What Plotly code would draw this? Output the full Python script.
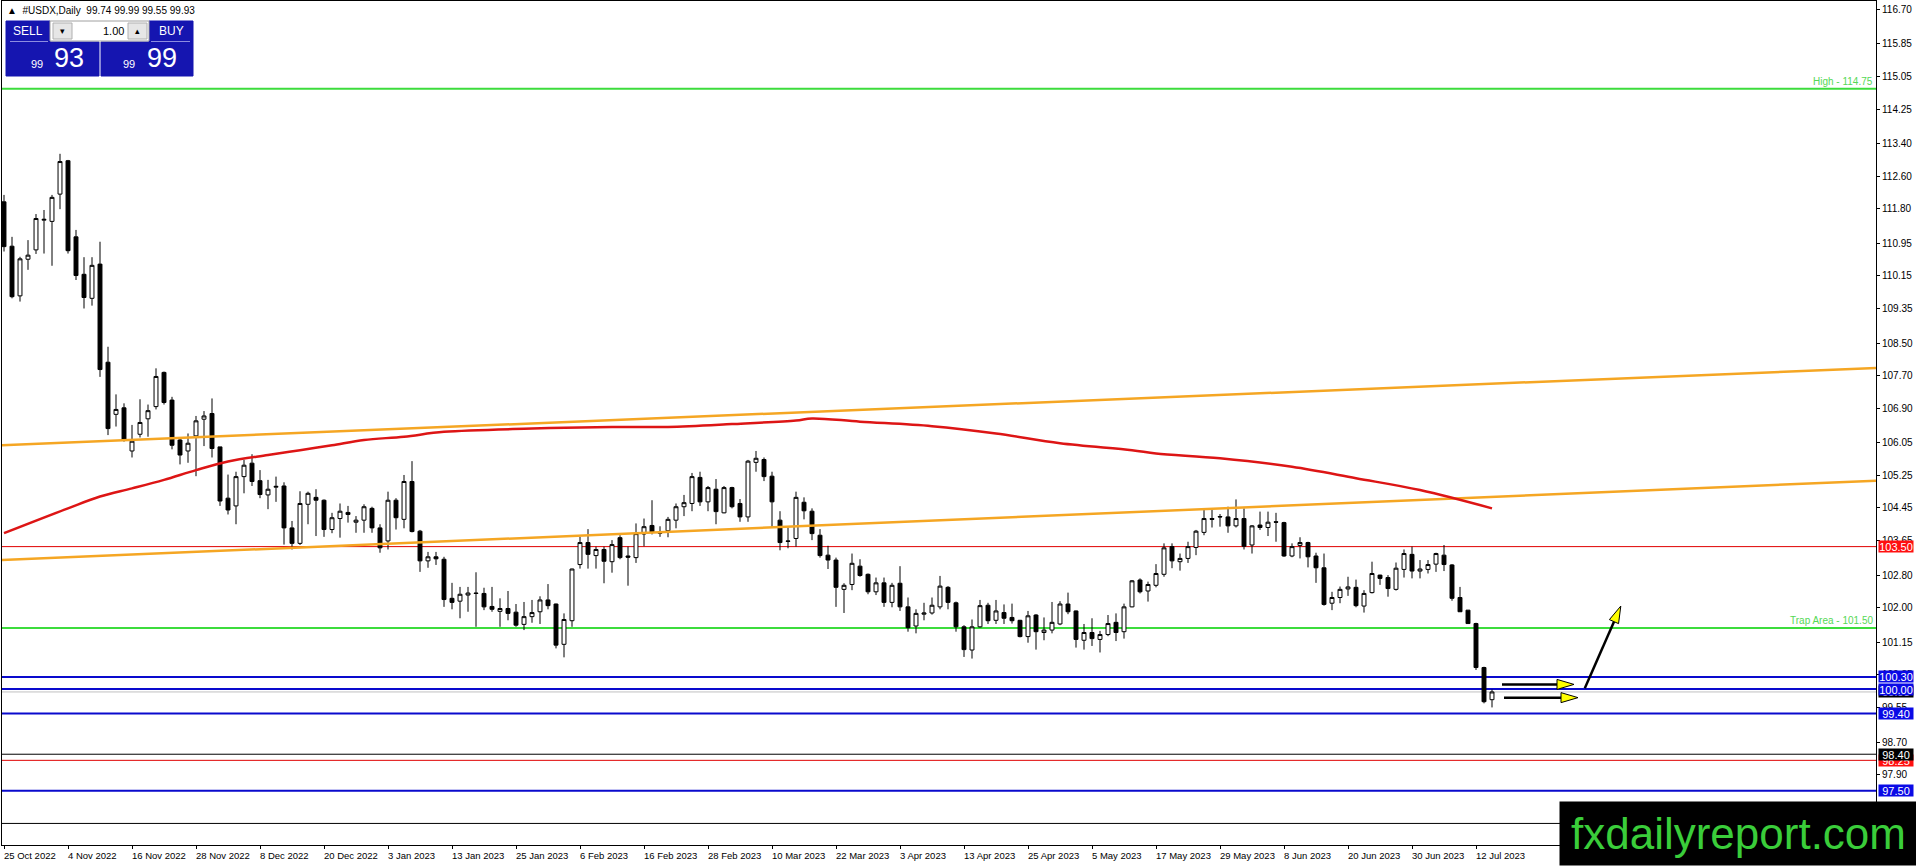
import plotly.graph_objects as go

# daily bars from 25 Oct 2022 to 14 Jul 2023, indexed 0..186
opens = [111.97, 110.88, 109.66, 110.56, 110.79, 111.52, 111.49, 112.16, 112.98, 111.11,
         110.19, 109.60, 110.44, 108.03, 106.75, 106.91, 105.85, 106.26, 106.64, 106.94,
         107.78, 107.10, 106.12, 105.85, 106.22, 106.63, 106.77, 105.95, 104.69, 104.50,
         105.22, 105.55, 105.12, 104.77, 104.96, 104.99, 103.96, 103.58, 104.54, 104.71,
         104.64, 103.92, 104.19, 104.34, 104.10, 104.15, 104.44, 103.96, 103.64, 104.64,
         104.17, 105.10, 103.88, 103.15, 103.25, 103.19, 102.23, 102.16, 102.31, 102.36,
         102.35, 102.03, 101.91, 101.98, 101.89, 101.59, 101.78, 101.90, 102.19, 102.09,
         101.10, 101.68, 103.06, 103.60, 103.28, 103.43, 103.13, 103.72, 103.27, 103.23,
         103.81, 104.02, 103.86, 103.89, 104.15, 104.48, 104.56, 105.20, 104.60, 104.91,
         104.33, 104.95, 104.56, 104.23, 105.57, 105.64, 105.23, 104.15, 103.64, 103.70,
         104.59, 104.37, 103.78, 103.29, 103.17, 102.45, 102.57, 103.02, 102.82, 102.39,
         102.61, 102.13, 102.60, 102.02, 101.55, 101.84, 101.87, 102.02, 102.50, 102.12,
         101.53, 100.96, 101.53, 102.06, 101.69, 101.88, 101.76, 101.69, 101.29, 101.82,
         101.39, 101.45, 101.60, 102.09, 101.92, 101.20, 101.39, 101.22, 101.34, 101.64,
         101.41, 102.02, 102.68, 102.41, 102.55, 102.82, 103.50, 103.13, 103.21, 103.48,
         103.85, 104.19, 104.24, 104.23, 104.01, 104.19, 103.54, 104.03, 103.97, 104.11,
         104.09, 103.27, 103.53, 103.60, 103.27, 102.98, 102.11, 102.25, 102.46, 102.50,
         102.04, 102.37, 102.80, 102.74, 102.45, 102.94, 103.31, 102.90, 102.94, 103.07,
         103.29, 103.05, 102.25, 101.94, 101.61, 100.53, 99.74]
highs = [112.14, 111.11, 110.62, 111.03, 111.67, 111.77, 112.14, 113.15, 113.00, 111.28,
         110.61, 110.61, 110.99, 108.41, 107.24, 107.02, 106.49, 107.12, 106.99, 107.88,
         107.80, 107.18, 106.16, 106.28, 106.71, 106.83, 107.14, 105.95, 105.27, 105.34,
         105.63, 105.77, 105.38, 105.14, 105.22, 105.08, 104.13, 104.86, 104.85, 104.91,
         104.66, 104.33, 104.56, 104.50, 104.25, 104.54, 104.48, 104.05, 104.85, 104.69,
         105.26, 105.60, 103.91, 103.37, 103.37, 103.25, 102.61, 102.51, 102.51, 102.87,
         102.49, 102.51, 102.23, 102.41, 102.09, 102.14, 102.19, 102.28, 102.58, 102.10,
         101.86, 102.96, 103.74, 103.93, 103.50, 103.50, 103.66, 103.78, 103.50, 104.07,
         104.19, 104.64, 104.00, 104.23, 104.56, 104.77, 105.31, 105.34, 104.99, 105.16,
         104.99, 104.97, 104.67, 105.63, 105.85, 105.69, 105.34, 104.37, 103.97, 104.85,
         104.71, 104.44, 103.93, 103.52, 103.23, 102.60, 103.33, 103.19, 102.84, 102.74,
         102.74, 102.61, 103.02, 102.25, 101.96, 102.12, 102.25, 102.78, 102.53, 102.15,
         101.57, 101.71, 102.19, 102.12, 102.19, 102.08, 102.10, 101.70, 101.92, 101.84,
         101.76, 102.14, 102.16, 102.37, 101.93, 101.60, 101.74, 101.43, 101.82, 101.86,
         102.10, 102.68, 102.72, 102.64, 103.07, 103.58, 103.58, 103.33, 103.62, 103.91,
         104.40, 104.40, 104.30, 104.48, 104.66, 104.44, 104.03, 104.36, 104.36, 104.33,
         104.11, 103.58, 103.73, 103.62, 103.35, 103.33, 102.39, 102.52, 102.76, 102.69,
         102.43, 103.13, 102.81, 102.80, 103.11, 103.43, 103.50, 103.17, 103.17, 103.35,
         103.54, 103.07, 102.51, 101.94, 101.63, 100.55, 99.99]
lows = [110.75, 109.60, 109.52, 110.30, 110.69, 110.70, 110.40, 111.79, 110.70, 110.05,
        109.35, 109.42, 107.67, 106.24, 106.45, 106.08, 105.69, 106.18, 106.20, 106.87,
        106.99, 105.89, 105.52, 105.56, 105.23, 105.97, 105.69, 104.50, 104.29, 104.05,
        104.81, 104.99, 104.69, 104.42, 104.60, 103.55, 103.43, 103.54, 104.05, 103.76,
        103.74, 103.83, 103.72, 104.09, 103.84, 103.84, 103.84, 103.35, 103.43, 103.92,
        103.95, 103.85, 102.88, 102.98, 103.05, 102.02, 101.96, 101.74, 101.90, 101.53,
        101.94, 101.90, 101.53, 101.69, 101.53, 101.45, 101.63, 101.60, 101.96, 101.00,
        100.78, 101.53, 102.96, 102.96, 102.96, 102.60, 102.86, 103.19, 102.54, 103.10,
        103.51, 103.80, 103.74, 103.73, 103.95, 104.25, 104.37, 104.50, 104.37, 104.05,
        104.32, 104.44, 104.11, 104.11, 105.34, 105.11, 103.96, 103.41, 103.46, 103.50,
        104.17, 103.66, 103.23, 102.95, 102.02, 101.87, 102.43, 102.76, 102.33, 102.31,
        102.02, 102.01, 101.92, 101.41, 101.37, 101.69, 101.83, 101.96, 101.96, 101.41,
        100.79, 100.75, 101.51, 101.60, 101.60, 101.60, 101.61, 101.27, 101.14, 100.97,
        101.20, 101.37, 101.57, 101.84, 101.02, 100.97, 101.06, 100.90, 101.30, 101.18,
        101.24, 102.01, 102.35, 102.15, 102.50, 102.76, 102.97, 102.91, 103.10, 103.29,
        103.78, 103.97, 103.99, 103.84, 103.97, 103.43, 103.33, 103.91, 103.76, 103.62,
        103.25, 103.24, 103.21, 102.99, 102.61, 102.05, 101.94, 102.11, 102.29, 102.01,
        101.88, 102.35, 102.56, 102.27, 102.42, 102.74, 102.72, 102.72, 102.84, 102.88,
        102.90, 102.17, 101.90, 101.61, 100.47, 99.65, 99.55]
closes = [110.87, 109.64, 110.57, 110.66, 111.56, 111.54, 112.08, 112.96, 110.77, 110.16,
          109.62, 110.41, 107.85, 106.40, 106.87, 106.12, 106.09, 106.55, 106.84, 107.68,
          107.04, 105.99, 105.75, 106.04, 106.59, 106.71, 105.91, 104.62, 104.40, 105.22,
          105.50, 105.10, 104.78, 104.91, 104.98, 103.96, 103.58, 104.56, 104.81, 104.64,
          103.92, 104.21, 104.37, 104.29, 104.15, 104.48, 103.96, 103.47, 104.64, 104.21,
          105.10, 103.87, 103.15, 103.25, 103.20, 102.20, 102.13, 102.33, 102.36, 102.35,
          102.02, 101.96, 101.98, 101.86, 101.57, 101.78, 101.88, 102.19, 102.05, 101.08,
          101.71, 102.95, 103.60, 103.31, 103.43, 103.14, 103.55, 103.23, 103.24, 103.82,
          103.99, 103.86, 103.83, 104.17, 104.48, 104.58, 105.22, 104.60, 104.95, 104.36,
          104.95, 104.48, 104.23, 105.60, 105.67, 105.22, 104.60, 103.60, 103.63, 104.71,
          104.38, 103.82, 103.28, 103.17, 102.50, 102.55, 103.09, 102.79, 102.39, 102.61,
          102.13, 102.55, 102.02, 101.51, 101.86, 101.87, 102.06, 102.53, 102.13, 101.53,
          100.97, 101.53, 102.05, 101.68, 101.92, 101.74, 101.68, 101.29, 101.80, 101.41,
          101.45, 101.64, 102.09, 101.90, 101.22, 101.39, 101.24, 101.34, 101.61, 101.39,
          102.02, 102.66, 102.39, 102.57, 102.84, 103.47, 103.15, 103.21, 103.50, 103.88,
          104.19, 104.17, 104.23, 104.01, 104.19, 103.51, 104.01, 103.97, 104.10, 104.10,
          103.27, 103.50, 103.60, 103.25, 102.98, 102.08, 102.25, 102.45, 102.51, 102.05,
          102.35, 102.84, 102.72, 102.47, 102.97, 103.33, 102.90, 102.95, 103.06, 103.33,
          103.06, 102.23, 101.90, 101.61, 100.53, 99.69, 99.93]
bars = list(range(len(opens)))

# moving average read at a few bars
ma_bars = [0, 8, 12, 16, 20, 24, 28, 33, 37, 41, 45, 50, 55, 66, 76, 83, 91, 99,
           101, 107, 116, 124, 132, 141, 144, 152, 161, 169, 177, 186]
ma_vals = [103.83, 104.44, 104.73, 104.93, 105.14, 105.38, 105.59, 105.75, 105.87, 105.99,
           106.12, 106.20, 106.32, 106.40, 106.44, 106.44, 106.51, 106.60, 106.65, 106.57,
           106.46, 106.28, 106.04, 105.87, 105.79, 105.67, 105.46, 105.18, 104.89, 104.44]

# channel trend lines (bar, price at both ends)
trend_bars = [-0.25, 234.0]
trend_upper = [105.99, 107.89]
trend_lower = [103.17, 105.12]

date_labels = ["25 Oct 2022", "4 Nov 2022", "16 Nov 2022", "28 Nov 2022", "8 Dec 2022",
               "20 Dec 2022", "3 Jan 2023", "13 Jan 2023", "25 Jan 2023", "6 Feb 2023",
               "16 Feb 2023", "28 Feb 2023", "10 Mar 2023", "22 Mar 2023", "3 Apr 2023",
               "13 Apr 2023", "25 Apr 2023", "5 May 2023", "17 May 2023", "29 May 2023",
               "8 Jun 2023", "20 Jun 2023", "30 Jun 2023", "12 Jul 2023"]
date_bars = [8 * i for i in range(len(date_labels))]

price_ticks = [116.70, 115.85, 115.05, 114.25, 113.40, 112.60, 111.80, 110.95, 110.15,
               109.35, 108.50, 107.70, 106.90, 106.05, 105.25, 104.45, 103.65, 102.80,
               102.00, 101.15, 100.35, 99.55, 98.70, 97.90, 97.10]

# horizontal levels: price, line colour, width, axis box colour
levels = [
    (114.75, "#3CDC3C", 2, None),
    (103.50, "#E00000", 1, "#FF1010"),
    (101.50, "#3CDC3C", 2, None),
    (100.30, "#0A0ACD", 2, "#0A0AE6"),
    (99.93, "#C0C0C0", 1, "#000000"),
    (100.00, "#0A0ACD", 2, "#0A0AE6"),
    (99.40, "#0A0ACD", 2, "#0A0AE6"),
    (98.25, "#E00000", 1, "#FF1010"),
    (98.40, "#000000", 1, "#000000"),
    (97.50, "#0A0ACD", 2, "#0A0AE6"),
    (96.70, "#000000", 1, None),
]
level_texts = [(114.75, "High - 114.75"), (101.50, "Trap Area - 101.50")]

# drawn arrows: start bar, start price, end bar, end price
arrows = [(187.25, 100.115, 196.25, 100.115),
          (187.5, 99.79, 196.75, 99.79),
          (197.6, 100.02, 202.1, 102.04)]

W, H = 1916, 866
L, R, T, B = 2, 40, 1, 21
XMIN, XMAX = -0.25, 234.0
YMIN, YMAX = 96.17, 116.904
SX = (W - L - R) / (XMAX - XMIN)
SY = (H - T - B) / (YMAX - YMIN)


def px(x):
    return (x - L) / (W - L - R)


def py(y):
    return 1 - (y - T) / (H - T - B)


fig = go.Figure()

for yu in [trend_upper, trend_lower]:
    fig.add_trace(go.Scatter(x=trend_bars, y=yu, mode="lines",
                             line=dict(color="#F5A623", width=2.5), hoverinfo="skip"))

fig.add_trace(go.Scatter(x=ma_bars, y=ma_vals, mode="lines", line_shape="spline",
                         line=dict(color="#DD1515", width=2.5), hoverinfo="skip"))

fig.add_trace(go.Candlestick(
    x=bars, open=opens, high=highs, low=lows, close=closes,
    increasing=dict(line=dict(color="black", width=1), fillcolor="white"),
    decreasing=dict(line=dict(color="black", width=1), fillcolor="black"),
    whiskerwidth=0,
))

shapes = []
annotations = []

for price, col, wd, box in levels:
    shapes.append(dict(type="line", xref="paper", x0=0, x1=1, yref="y", y0=price, y1=price,
                       line=dict(color=col, width=wd), layer="below"))

for price, txt in level_texts:
    annotations.append(dict(xref="paper", x=1, xanchor="right", xshift=-1,
                            yref="y", y=price, yanchor="bottom", yshift=0,
                            text=txt, showarrow=False,
                            font=dict(family="Liberation Sans", size=10, color="#55D855")))

for price, col, wd, box in levels:
    if box is None:
        continue
    annotations.append(dict(xref="paper", x=1, xanchor="left", xshift=2,
                            yref="y", y=price, yanchor="middle",
                            text="%.2f" % price, showarrow=False, bgcolor=box,
                            width=34, height=11, borderpad=0,
                            font=dict(family="Liberation Sans", size=11, color="white")))

# arrows: black shaft plus yellow head
for x0, y0, x1, y1 in arrows:
    ax0, ay0 = x0 * SX, -y0 * SY
    ax1, ay1 = x1 * SX, -y1 * SY
    dx, dy = ax1 - ax0, ay1 - ay0
    n = (dx * dx + dy * dy) ** 0.5
    ux, uy = dx / n, dy / n
    hl, hw = 17, 5
    bx, by = ax1 - ux * hl, ay1 - uy * hl
    pts = [(ax1, ay1), (bx - uy * hw, by + ux * hw), (bx + uy * hw, by - ux * hw)]
    pts = [(p[0] / SX, -p[1] / SY) for p in pts]
    shapes.append(dict(type="line", xref="x", yref="y", x0=x0, y0=y0, x1=bx / SX, y1=-by / SY,
                       line=dict(color="black", width=2.5)))
    path = "M %f,%f L %f,%f L %f,%f Z" % (pts[0][0], pts[0][1], pts[1][0], pts[1][1],
                                          pts[2][0], pts[2][1])
    shapes.append(dict(type="path", xref="x", yref="y", path=path, fillcolor="#FFFF00",
                       line=dict(color="black", width=1)))

# date labels, left aligned at the tick like the terminal
for b, txt in zip(date_bars, date_labels):
    annotations.append(dict(xref="x", x=b, xanchor="left", xshift=-2,
                            yref="paper", y=0, yanchor="top", yshift=-3,
                            text=txt, showarrow=False,
                            font=dict(family="Liberation Sans", size=9.5, color="black")))

# header line
annotations.append(dict(xref="paper", x=px(5), xanchor="left", yref="paper", y=py(10),
                        yanchor="middle", showarrow=False,
                        text="\u25b2  #USDX,Daily  99.74 99.99 99.55 99.93",
                        font=dict(family="Liberation Sans", size=10, color="black")))

# one click trading panel
blue = "#1515B0"
panel = [
    (6, 21, 50, 42, blue, blue),
    (6, 42, 99, 76, blue, blue),
    (101, 42, 193, 76, blue, blue),
    (149, 21, 193, 42, blue, blue),
    (50, 21, 149, 41, "white", "#A0A0A0"),
    (53, 23, 72, 39, "#E6E6E6", "#B0B0B0"),
    (128, 23, 147, 39, "#E6E6E6", "#B0B0B0"),
]
for x0, y0, x1, y1, fill, edge in panel:
    shapes.append(dict(type="rect", xref="paper", yref="paper", x0=px(x0), x1=px(x1),
                       y0=py(y0), y1=py(y1), fillcolor=fill,
                       line=dict(color=edge, width=1), layer="above"))
for x0, x1 in [(10, 48), (151, 190)]:
    shapes.append(dict(type="line", xref="paper", yref="paper", x0=px(x0), x1=px(x1),
                       y0=py(41.5), y1=py(41.5), line=dict(color="#8C8CE0", width=1),
                       layer="above"))

panel_text = [
    (28, 31, "SELL", 12, "white", "center"),
    (171, 31, "BUY", 12, "white", "center"),
    (62, 31, "\u25be", 9, "black", "center"),
    (137, 31, "\u25b4", 9, "black", "center"),
    (126, 31, "1.00", 11, "black", "right"),
    (45, 64, "99", 11, "white", "right"),
    (52, 58, "93", 27, "white", "left"),
    (137, 64, "99", 11, "white", "right"),
    (145, 58, "99", 27, "white", "left"),
]
for x, y, txt, size, col, anchor in panel_text:
    annotations.append(dict(xref="paper", yref="paper", x=px(x), y=py(y), xanchor=anchor,
                            yanchor="middle", text=txt, showarrow=False,
                            font=dict(family="Liberation Sans", size=size, color=col)))

# watermark
annotations.append(dict(xref="paper", yref="paper", x=px(1559), y=py(866), xanchor="left",
                        yanchor="bottom", width=357, height=63, bgcolor="black", borderpad=0,
                        text="fxdailyreport.com", showarrow=False, align="center",
                        font=dict(family="Liberation Sans Narrow, Liberation Sans", size=44,
                                  color="#3ACD3A")))

fig.update_layout(
    width=W, height=H,
    margin=dict(l=L, r=R, t=T, b=B),
    paper_bgcolor="white", plot_bgcolor="white",
    showlegend=False,
    shapes=shapes, annotations=annotations,
    xaxis=dict(range=[XMIN, XMAX], showgrid=False, zeroline=False, rangeslider=dict(visible=False),
               tickvals=date_bars, showticklabels=False, ticks="outside", ticklen=3,
               tickcolor="black", showline=True, linecolor="black", linewidth=1, mirror=True),
    yaxis=dict(range=[YMIN, YMAX], side="right", showgrid=False, zeroline=False,
               tickvals=price_ticks, ticktext=["%.2f" % v for v in price_ticks],
               ticks="outside", ticklen=3, tickcolor="black",
               tickfont=dict(family="Liberation Sans", size=10, color="black"),
               showline=True, linecolor="black", linewidth=1, mirror=True),
)

fig.write_html("out.html", config={"displayModeBar": False},
               post_script="document.body.style.margin='0';")
